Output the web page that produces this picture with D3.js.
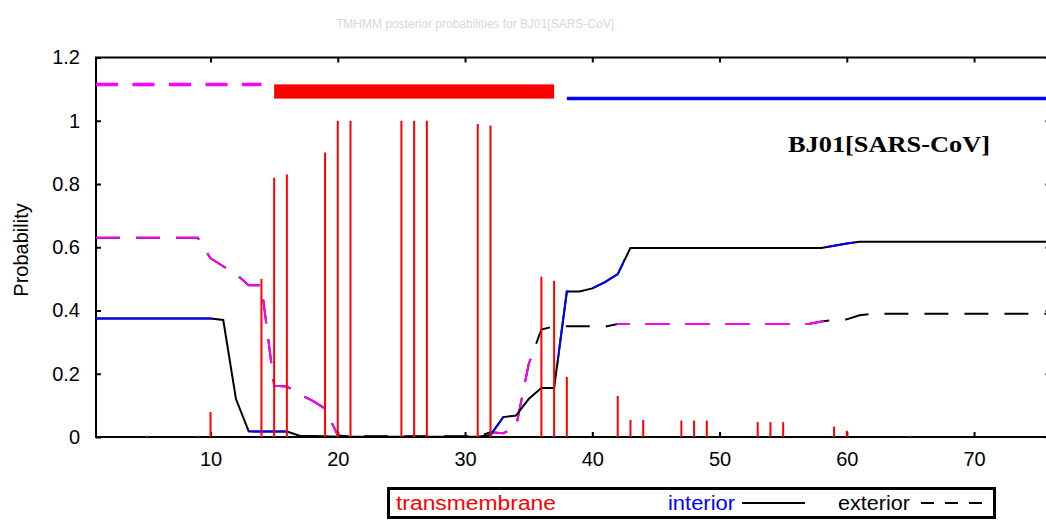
<!DOCTYPE html>
<html><head><meta charset="utf-8">
<script src="https://cdn.jsdelivr.net/npm/d3@7"></script>
<style>
body{margin:0;background:#fff}
svg{display:block}
text{font-family:"Liberation Sans",Arial,sans-serif}
</style>
</head><body>
<svg id="c" width="1046" height="521"></svg>
<script>
// ---------- data ----------
const positions = d3.range(1, 77); // residue 1..76
const interior = [
  0.375,0.375,0.375,0.375,0.375,0.375,0.375,0.375,0.375,0.375,
  0.37,0.12,0.018,0.017,0.017,0.017,0.004,0.003,0.002,0.001,
  0.001,0.001,0.001,0.001,0.001,0.001,0.001,0.001,0.001,0.001,
  0.001,0.006,0.063,0.068,0.12,0.155,0.155,0.46,0.46,0.47,
  0.49,0.515,0.598,0.598,0.598,0.598,0.598,0.598,0.598,0.598,
  0.598,0.598,0.598,0.598,0.598,0.598,0.598,0.598,0.605,0.612,
  0.617,0.617,0.617,0.617,0.617,0.617,0.617,0.617,0.617,0.617,
  0.617,0.617,0.617,0.617,0.617,0.617
];
const exterior = [
  0.63,0.63,0.63,0.63,0.63,0.63,0.63,0.63,0.63,0.565,
  0.54,0.515,0.48,0.48,0.162,0.16,0.135,0.115,0.09,0.005,
  0.002,0.002,0.002,0.002,0.002,0.002,0.002,0.002,0.002,0.002,
  0.002,0.015,0.012,0.03,0.23,0.34,0.35,0.35,0.35,0.35,
  0.349,0.357,0.357,0.357,0.357,0.357,0.357,0.357,0.357,0.357,
  0.357,0.357,0.357,0.357,0.357,0.357,0.357,0.365,0.37,0.372,
  0.385,0.39,0.39,0.39,0.39,0.39,0.39,0.39,0.39,0.39,
  0.39,0.39,0.39,0.39,0.39,0.39
];
const tmPositions = [5,9,10,14,15,16,19,20,21,25,26,27,31,32,36,37,38,42,43,44,47,48,49,53,54,55,59,60,65];
const tmValues    = [0.004,0.004,0.079,0.5,0.82,0.83,0.9,1.0,1.0,1.0,1.0,1.0,0.99,0.985,0.507,0.494,0.19,0.13,0.054,0.054,0.052,0.052,0.052,0.047,0.047,0.047,0.033,0.02,0.004];
// predicted topology (top of plot)
const topoOutside = [1, 14];
const topoTM = [15, 37];
const topoInside = [38, 76];
const levelOutside = 1.115, levelInside = 1.07;
const xTicks = [10,20,30,40,50,60,70];
const yTicks = [0,0.2,0.4,0.6,0.8,1,1.2];
const yTickLabels = ["0","0.2","0.4","0.6","0.8","1","1.2"];
const seqLabel = "BJ01[SARS-CoV]";
const titleText = "TMHMM posterior probabilities for BJ01[SARS-CoV]";
const legendLabels = ["transmembrane","interior","exterior"];

// ---------- layout ----------
const svg = d3.select("#c");
const x = d3.scaleLinear().domain([1,76]).range([96,1050.4]);
const y = d3.scaleLinear().domain([0,1.2]).range([437,57.5]);
const RED="#ff0000", BLUE="#0000ff", MAG="#ff00ff";

const defs = svg.append("defs");
function clipRanges(id, ranges){
  const cp = defs.append("clipPath").attr("id", id);
  ranges.forEach(r => cp.append("rect").attr("x", x(r[0])).attr("width", x(r[1]) - x(r[0])).attr("y", 0).attr("height", 521));
}
clipRanges("blueClip", [[1,10.1],[13,16],[32,33],[37.3,38.2],[40,42.5],[58.5,60.6]]);
clipRanges("magClip", [[1,20],[32,35.3],[41.9,58.2]]);
clipRanges("plotClip", [[1,76]]);

// title (faint)
svg.append("text").attr("x",475).attr("y",28).attr("text-anchor","middle")
  .style("font-size","12px").attr("fill","#d8d8d8").text(titleText);

// frame
svg.append("rect").attr("x",x(1)).attr("y",y(1.2)).attr("width",x(76)-x(1)).attr("height",y(0)-y(1.2))
  .attr("fill","none").attr("stroke","#000").attr("stroke-width",2);

// axes
const ax = svg.append("g").attr("transform",`translate(${x(1)},0)`)
  .call(d3.axisLeft(y).tickValues(yTicks).tickFormat((d,i)=>yTickLabels[i]).tickSize(-5).tickPadding(16));
const bx = svg.append("g").attr("transform",`translate(0,${y(0)})`)
  .call(d3.axisBottom(x).tickValues(xTicks).tickFormat(d3.format("d")).tickSize(-5).tickPadding(15));
const tx = svg.append("g").attr("transform",`translate(0,${y(1.2)})`)
  .call(d3.axisTop(x).tickValues(xTicks).tickFormat("").tickSize(-5));
const rx = svg.append("g").attr("transform",`translate(${x(76)},0)`)
  .call(d3.axisRight(y).tickValues(yTicks).tickFormat("").tickSize(-5));
[ax,bx,tx,rx].forEach(g=>{
  g.select(".domain").remove();
  g.selectAll(".tick line").attr("stroke","#000").attr("stroke-width",2);
  g.selectAll(".tick text").style("font-size","20px").attr("fill","#000").style("font-family",'"Liberation Sans",Arial,sans-serif');
});

// y label
svg.append("text").attr("transform","translate(28,250) rotate(-90)").attr("text-anchor","middle")
  .style("font-size","20px").attr("fill","#000").text("Probability");

// lines
const line = (arr) => d3.line().x((d,i)=>x(positions[i])).y(d=>y(d))(arr);
const plot = svg.append("g").attr("clip-path","url(#plotClip)");
const extPath = line(exterior);
plot.append("path").attr("d",extPath).attr("fill","none").attr("stroke","#000").attr("stroke-width",2).attr("stroke-dasharray","24,16");
plot.append("path").attr("d",extPath).attr("fill","none").attr("stroke",MAG).attr("stroke-width",2).attr("stroke-dasharray","24,16").attr("clip-path","url(#magClip)");
const intPath = line(interior);
plot.append("path").attr("d",intPath).attr("fill","none").attr("stroke","#000").attr("stroke-width",2);
plot.append("path").attr("d",intPath).attr("fill","none").attr("stroke",BLUE).attr("stroke-width",2).attr("clip-path","url(#blueClip)");

// transmembrane impulses
plot.selectAll("line.tm").data(tmPositions).enter().append("line").attr("class","tm")
  .attr("x1",d=>x(d)).attr("x2",d=>x(d)).attr("y1",y(0)).attr("y2",(d,i)=>y(tmValues[i]))
  .attr("stroke",RED).attr("stroke-width",2);

// topology bar at top
plot.append("line").attr("x1",x(topoOutside[0])).attr("x2",x(topoOutside[1])).attr("y1",y(levelOutside)).attr("y2",y(levelOutside))
  .attr("stroke",MAG).attr("stroke-width",3.5).attr("stroke-dasharray","22,14.5");
plot.append("rect").attr("x",x(topoTM[0])).attr("width",x(topoTM[1])-x(topoTM[0]))
  .attr("y",y(levelOutside)).attr("height",y(levelInside)-y(levelOutside)).attr("fill",RED);
plot.append("line").attr("x1",x(topoInside[0])).attr("x2",x(topoInside[1])).attr("y1",y(levelInside)).attr("y2",y(levelInside))
  .attr("stroke",BLUE).attr("stroke-width",3.5);

// sequence label
svg.append("text").attr("x",788).attr("y",152).attr("textLength",202).attr("lengthAdjust","spacingAndGlyphs")
  .style("font-family",'"Liberation Serif","Times New Roman",serif').style("font-weight","bold").style("font-size","24px")
  .attr("fill","#000").text(seqLabel);

// legend
const lg = svg.append("g");
lg.append("rect").attr("x",388.5).attr("y",488.5).attr("width",606).attr("height",29).attr("fill","#fff").attr("stroke","#000").attr("stroke-width",3);
lg.append("text").attr("x",396).attr("y",510).attr("textLength",160).attr("lengthAdjust","spacingAndGlyphs").style("font-size","20px").attr("fill",RED).text(legendLabels[0]);
lg.append("text").attr("x",668).attr("y",510).attr("textLength",67).attr("lengthAdjust","spacingAndGlyphs").style("font-size","20px").attr("fill",BLUE).text(legendLabels[1]);
lg.append("line").attr("x1",742).attr("x2",805).attr("y1",503).attr("y2",503).attr("stroke","#000").attr("stroke-width",2);
lg.append("text").attr("x",838).attr("y",510).attr("textLength",72).attr("lengthAdjust","spacingAndGlyphs").style("font-size","20px").attr("fill","#000").text(legendLabels[2]);
lg.append("line").attr("x1",921).attr("x2",987).attr("y1",503).attr("y2",503).attr("stroke","#000").attr("stroke-width",2).attr("stroke-dasharray","13,11");
</script>
</body></html>
